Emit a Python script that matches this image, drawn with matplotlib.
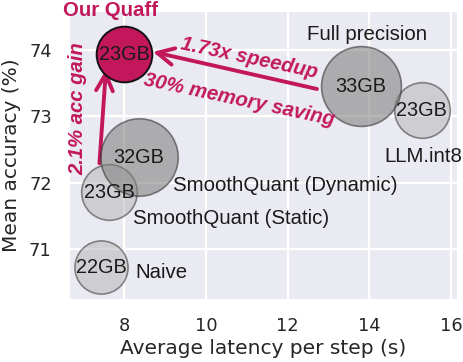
import numpy as np
import matplotlib
matplotlib.use("Agg")
import matplotlib.pyplot as plt
import seaborn as sns

# data
methods = ["Our Quaff", "Full precision", "LLM.int8",
           "SmoothQuant (Dynamic)", "SmoothQuant (Static)", "Naive"]
latency = [8.0, 13.79, 15.29, 8.35, 7.63, 7.43]
accuracy = [73.93, 73.45, 73.09, 72.38, 71.85, 70.72]
memory = [23, 33, 23, 32, 23, 22]
mem_labels = ["%dGB" % m for m in memory]

x_ticks = [8, 10, 12, 14, 16]
y_ticks = [71, 72, 73, 74]

crimson = "#C2185B"
text_col = "#1a1a1a"

sns.set_style("darkgrid")
plt.rcParams["font.family"] = ["DejaVu Sans"]
ann_font = ["Liberation Sans", "DejaVu Sans"]

fig = plt.figure(figsize=(4.64, 3.62), dpi=100)
ax = fig.add_axes([69 / 464, (362 - 299.3) / 362, (457 - 69) / 464, (299.3 - 10.7) / 362])
ax.grid(True, color="white", linewidth=1.6)

# bubble size from memory (radius ~1.21 px per GB)
sizes = [(2 * 1.21 * m * 0.72) ** 2 for m in memory]
face = [crimson, "#808080", "#b8b8b8", "#808080", "#b8b8b8", "#b8b8b8"]
alphas = [1.0, 0.58, 0.55, 0.58, 0.55, 0.55]
edges = ["#111111", "#333333", "#333333", "#333333", "#333333", "#333333"]
order = [4, 5, 2, 1, 3, 0]
for i in order:
    ax.scatter(latency[i], accuracy[i], s=sizes[i], c=face[i], alpha=alphas[i],
               edgecolors=edges[i], linewidths=1.4 if i == 0 else 1.2, zorder=3)
    ax.text(latency[i], accuracy[i], mem_labels[i], ha="center", va="center",
            fontsize=14.3, family=ann_font, color=text_col, zorder=4)

# method names
ax.text(latency[1] + 0.15, accuracy[1] + 0.78, methods[1], ha="center", va="center",
        fontsize=14.7, family=ann_font, color=text_col)
ax.text(latency[2] + 0.04, accuracy[2] - 0.70, methods[2], ha="center", va="center",
        fontsize=14.7, family=ann_font, color=text_col)
ax.text(latency[3] + 0.85, accuracy[3] - 0.42, methods[3], ha="left", va="center",
        fontsize=14.7, family=ann_font, color=text_col)
ax.text(latency[4] + 0.59, accuracy[4] - 0.39, methods[4], ha="left", va="center",
        fontsize=14.7, family=ann_font, color=text_col)
ax.text(latency[5] + 0.85, accuracy[5] - 0.07, methods[5], ha="left", va="center",
        fontsize=14.7, family=ann_font, color=text_col)
ax.text(latency[0] - 0.33, accuracy[0] + 0.67, methods[0], ha="center", va="center",
        fontsize=14.7, family=ann_font, color=crimson, fontweight="bold", clip_on=False)

# arrows
arrow = dict(arrowstyle="->", color=crimson, lw=2.8, mutation_scale=30,
             shrinkA=0, shrinkB=0)
ax.annotate("", xy=(latency[0] - 0.45, accuracy[0] - 0.23),
            xytext=(latency[4] - 0.24, accuracy[4] + 0.44), arrowprops=arrow, zorder=2)
ax.annotate("", xy=(latency[0] + 0.70, accuracy[0] + 0.04),
            xytext=(latency[1] - 1.07, accuracy[1] - 0.04), arrowprops=arrow, zorder=2)

ax.text(6.87, 73.11, "2.1% acc gain", rotation=90, ha="center", va="center",
        fontsize=14.6, family=ann_font, color=crimson, fontweight="bold", style="italic")
ax.text(11.06, 73.87, "1.73x speedup", rotation=-12, ha="center", va="center",
        fontsize=14.6, family=ann_font, color=crimson, fontweight="bold", style="italic")
ax.text(10.82, 73.25, "30% memory saving", rotation=-12, ha="center", va="center",
        fontsize=14.6, family=ann_font, color=crimson, fontweight="bold", style="italic")

ax.set_xlim(6.645, 16.15)
ax.set_ylim(70.24, 74.59)
ax.set_xticks(x_ticks)
ax.set_yticks(y_ticks)
ax.tick_params(labelsize=12.8, colors="#262626", pad=9)
ax.set_xlabel("Average latency per step (s)", fontsize=14.5, color="#262626", labelpad=3)
ax.set_ylabel("Mean accuracy (%)", fontsize=14.5, color="#262626", labelpad=6)

fig.savefig("out.png", dpi=100)
